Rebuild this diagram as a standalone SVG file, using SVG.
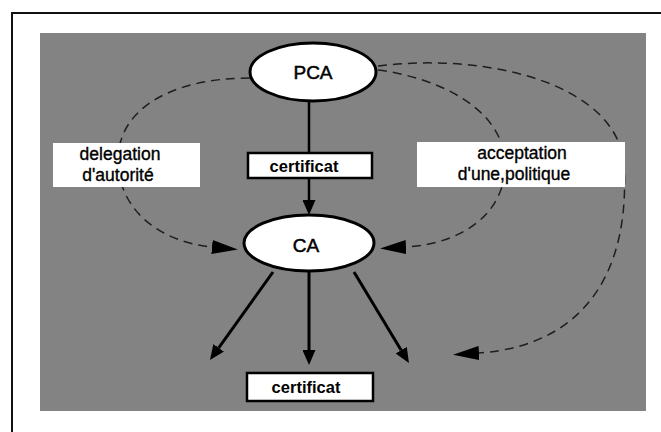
<svg xmlns="http://www.w3.org/2000/svg" width="661" height="432" viewBox="0 0 661 432">
  <defs>
    <style>
      .frame { fill: none; stroke: #111; stroke-width: 2; }
      .panel { fill: #838383; }
      .node { fill: #fff; stroke: #000; stroke-width: 3; }
      .box { fill: #fff; stroke: #000; stroke-width: 2.5; }
      .label { fill: #fff; stroke: none; }
      .txt { font-family: "Liberation Sans", Arial, sans-serif; fill: #000; text-anchor: middle; }
      .name { font-size: 19px; stroke: #000; stroke-width: 0.5; }
      .cert { font-size: 16.5px; font-weight: bold; }
      .note { font-size: 17.5px; stroke: #000; stroke-width: 0.35; }
      .solid { fill: none; stroke: #000; stroke-width: 3; }
      .thin { fill: none; stroke: #000; stroke-width: 2.5; }
      .dash { fill: none; stroke: #1e1e1e; stroke-width: 1.5; stroke-dasharray: 9 6; }
    </style>
    <marker id="head" markerUnits="userSpaceOnUse" markerWidth="15" markerHeight="13" viewBox="0 0 15 13" refX="0" refY="6.5" orient="auto">
      <path d="M0,0 L15,6.5 L0,13 z" fill="#000"/>
    </marker>
    <marker id="head-dash" markerUnits="userSpaceOnUse" markerWidth="26" markerHeight="14" viewBox="0 0 26 14" refX="0" refY="7" orient="auto">
      <path d="M0,0 L26,7 L0,14 z" fill="#000"/>
    </marker>
  </defs>

  <!-- outer frame (top and left edges) -->
  <path class="frame" d="M12,432 L12,13 L661,13"/>

  <!-- shaded panel -->
  <rect class="panel" x="40" y="33" width="606" height="378"/>

  <!-- connectors -->
  <g id="connectors">
    <!-- PCA to certificat -->
    <line class="thin" x1="309" y1="101" x2="309" y2="153"/>
    <!-- certificat to CA -->
    <line class="thin" x1="309" y1="178" x2="309" y2="200" marker-end="url(#head)"/>
    <!-- CA issuing -->
    <line class="solid" x1="273" y1="272" x2="218.7" y2="347.8" marker-end="url(#head)"/>
    <line class="solid" x1="309" y1="272" x2="309" y2="350" marker-end="url(#head)"/>
    <line class="solid" x1="354" y1="272" x2="401.2" y2="350.2" marker-end="url(#head)"/>
    <!-- dashed relations -->
    <path class="dash" d="M250,78 C170,78 118,110 118,160 C118,210 160,242 212,247" marker-end="url(#head-dash)"/>
    <path class="dash" d="M378,70 C440,78 505,110 505,165 C505,215 460,244 406,247" marker-end="url(#head-dash)"/>
    <path class="dash" d="M378,66 C490,52 618,85 624,165 C630,265 590,345 479,353" marker-end="url(#head-dash)"/>
  </g>

  <!-- PCA -->
  <g id="pca">
    <ellipse class="node" cx="313" cy="72" rx="63" ry="29"/>
    <text class="txt name" x="313" y="79">PCA</text>
  </g>

  <!-- certificat (upper) -->
  <g id="cert-top">
    <rect class="box" x="248" y="153" width="124" height="25"/>
    <text class="txt cert" x="304" y="172">certificat</text>
  </g>

  <!-- CA -->
  <g id="ca">
    <ellipse class="node" cx="309" cy="243" rx="65" ry="28"/>
    <text class="txt name" x="306" y="252">CA</text>
  </g>

  <!-- certificat (lower) -->
  <g id="cert-bottom">
    <rect class="box" x="247" y="373" width="126" height="28"/>
    <text class="txt cert" x="306" y="393">certificat</text>
  </g>

  <!-- delegation label -->
  <g id="delegation">
    <rect class="label" x="53" y="143" width="147" height="44"/>
    <text class="txt note" x="120" y="160">delegation</text>
    <text class="txt note" x="118" y="181">d'autorité</text>
  </g>

  <!-- acceptation label -->
  <g id="acceptation">
    <rect class="label" x="417" y="142" width="208" height="45"/>
    <text class="txt note" x="522" y="159">acceptation</text>
    <text class="txt note" x="514" y="180">d'une,politique</text>
  </g>
</svg>
